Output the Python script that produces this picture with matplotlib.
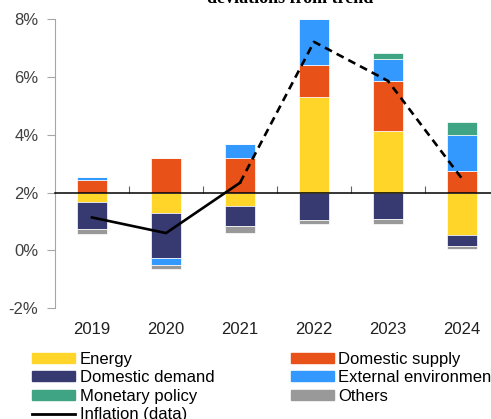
# Inflation decomposition: contributions as deviations from trend (2% baseline)
import numpy as np
import matplotlib.pyplot as plt
from matplotlib.patches import Patch
from matplotlib.lines import Line2D

years = ['2019', '2020', '2021', '2022', '2023', '2024']
trend = 2.0

energy = [-0.34, -0.72, -0.48, 3.31, 2.14, -1.45]
dom_supply = [0.45, 1.21, 1.18, 1.10, 1.71, 0.74]
dom_demand = [-0.93, -1.54, -0.69, -0.95, -0.93, -0.41]
external = [0.08, -0.26, 0.50, 1.58, 0.76, 1.24]
monetary = [0.0, 0.0, 0.0, 0.0, 0.23, 0.45]
others = [-0.16, -0.12, -0.23, -0.15, -0.16, -0.09]
inflation = [1.14, 0.60, 2.34, 7.21, 5.86, 2.48]

series = [
    ('Energy', energy, '#FFD52A'),
    ('Domestic supply', dom_supply, '#E85118'),
    ('Domestic demand', dom_demand, '#363A70'),
    ('External environment', external, '#3399FF'),
    ('Monetary policy', monetary, '#3FA483'),
    ('Others', others, '#999999'),
]

plt.rcParams['font.family'] = ['Liberation Sans', 'DejaVu Sans']

fig = plt.figure(figsize=(4.91, 4.19), dpi=100)
ax = fig.add_axes([55/491, 1 - 308.3/419, 444/491, 289.3/419])

x = np.arange(len(years))
pos_base = np.full(len(years), trend)
neg_base = np.full(len(years), trend)
for name, vals, col in series:
    v = np.array(vals)
    bottom = np.where(v >= 0, pos_base, neg_base)
    ax.bar(x, v, 0.4, bottom=bottom, color=col, edgecolor='white', linewidth=0.5, zorder=2)
    pos_base = pos_base + np.where(v > 0, v, 0)
    neg_base = neg_base + np.where(v < 0, v, 0)

# inflation line: data (solid) up to 2021, then dashed
ax.plot(x[:3], inflation[:3], color='black', lw=1.9, zorder=4)
ax.plot(x[2:], inflation[2:], color='black', lw=1.9, ls=(0, (3, 2)), zorder=4)

ax.set_xlim(-0.5, 5.5)
ax.set_ylim(-2, 8)
ax.set_yticks(np.arange(-2, 9, 2))
ax.set_yticklabels([f'{t}%' for t in range(-2, 9, 2)], fontsize=12, color='#404040')
ax.tick_params(axis='y', direction='out', length=6, color='#A6A6A6', pad=6)

ax.spines['top'].set_visible(False)
ax.spines['right'].set_visible(False)
ax.spines['left'].set_color('#A6A6A6')
ax.spines['bottom'].set_position(('data', trend))
ax.spines['bottom'].set_color('black')
ax.spines['bottom'].set_linewidth(1.1)
ax.spines['bottom'].set_zorder(3)
ax.set_xticks(x[:-1] + 0.5)
ax.set_xticklabels([])
ax.tick_params(axis='x', direction='in', length=5, color='#606060')

for i, yr in enumerate(years):
    ax.text(i, -0.075, yr, transform=ax.get_xaxis_transform(), ha='center', va='center',
            fontsize=12, color='#202020')

fig.text(290/491, 1 - 3/419, 'deviations from trend', ha='center', va='baseline',
         fontsize=13, fontweight='bold', family='Liberation Serif')

handles = [Patch(color=c, label=n) for n, v, c in series]
infl_handle = Line2D([], [], color='black', lw=2, label='Inflation (data)')
order = [handles[0], handles[2], handles[4], infl_handle, handles[1], handles[3], handles[5]]
fig.legend(handles=order, loc='upper left', bbox_to_anchor=(32/491, 1 - 352/419), ncol=2,
           frameon=False, fontsize=12, borderpad=0, borderaxespad=0, handlelength=2.6,
           handleheight=0.55, handletextpad=0.25, columnspacing=4.6, labelspacing=0.2)

fig.savefig('out.png', dpi=100)
